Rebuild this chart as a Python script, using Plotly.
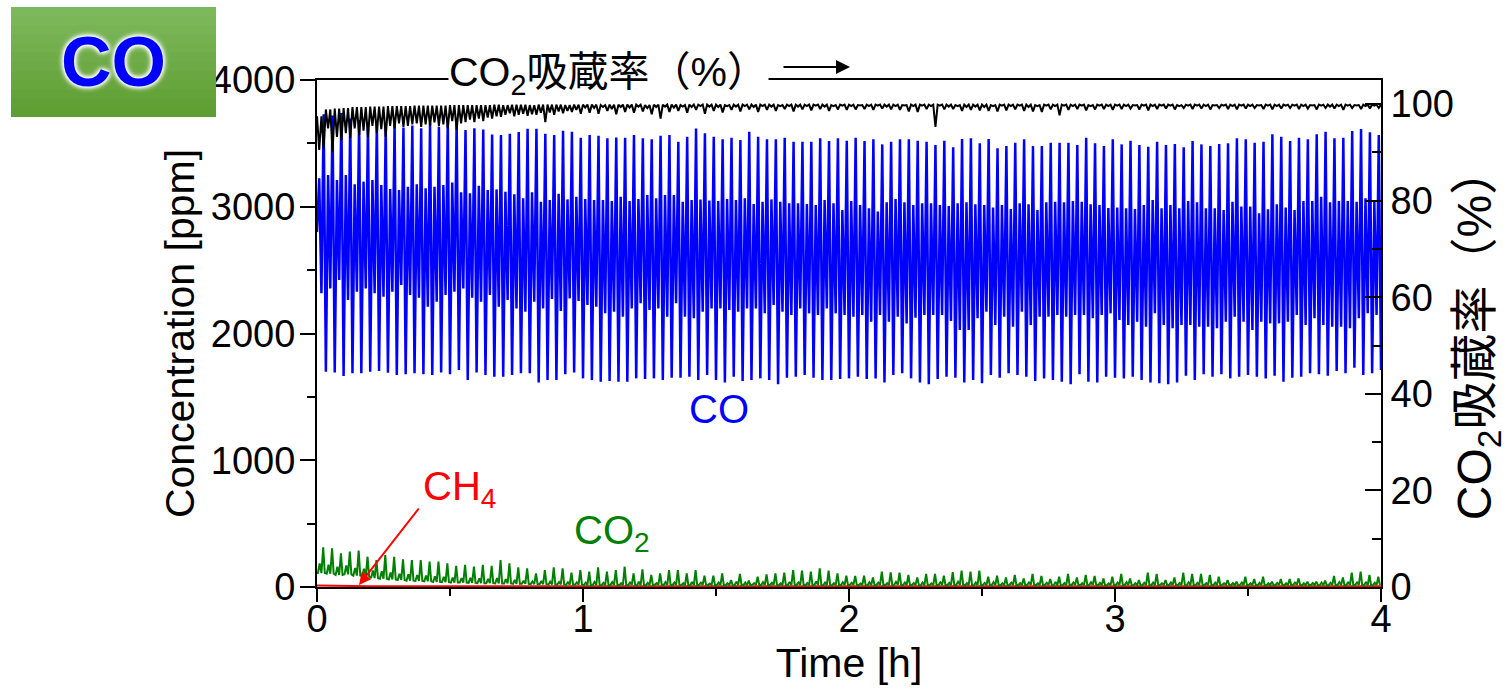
import plotly.graph_objects as go

# ---------------- data ----------------
CYCLE_H = 1 / 30  # one pressure-swing cycle = 2 min, 120 cycles in 4 h

# CO concentration [ppm] – four turning points per cycle
co_start = 2800
co_mid_peak = [
    3224, 3250, 3211, 3250, 3177, 3198, 3211, 3171, 3140, 3132,
    3158, 3177, 3145, 3158, 3171, 3192, 3114, 3106, 3166, 3132,
    3137, 3119, 3098, 3066, 3114, 3040, 3053, 3103, 3058, 3079,
    3061, 3053, 3053, 3045, 3079, 3045, 3061, 3092, 3066, 3092,
    3092, 3040, 3053, 3058, 3050, 3045, 3061, 3053, 3066, 3022,
    3040, 3058, 3040, 3027, 3027, 3022, 3014, 3053, 3027, 2975,
    3045, 3014, 2988, 2962, 3035, 3061, 3035, 3014, 3027, 3027,
    3014, 3006, 3027, 3035, 3019, 3014, 2993, 3014, 2983, 3027,
    3019, 2975, 3035, 3040, 3035, 3045, 3040, 3019, 3014, 2990,
    2993, 2988, 2983, 3014, 3053, 2988, 3014, 2988, 3045, 3035,
    2988, 2988, 2975, 3040, 3001, 3001, 2948, 2980, 3019, 2993,
    2975, 3045, 3045, 3079, 3035, 3045, 3045, 3040, 3066, 3040]
co_mid_trough = [
    2317, 2356, 2422, 2264, 2330, 2356, 2317, 2290, 2330, 2382,
    2304, 2282, 2211, 2251, 2304, 2330, 2356, 2282, 2251, 2304,
    2211, 2264, 2198, 2172, 2251, 2198, 2272, 2177, 2277, 2256,
    2225, 2211, 2159, 2172, 2133, 2198, 2238, 2185, 2198, 2133,
    2238, 2133, 2120, 2172, 2198, 2198, 2185, 2172, 2198, 2198,
    2159, 2225, 2172, 2146, 2198, 2159, 2146, 2198, 2159, 2146,
    2133, 2146, 2093, 2146, 2093, 2133, 2080, 2125, 2146, 2146,
    2146, 2098, 2028, 2028, 2120, 2172, 2067, 2133, 2054, 2172,
    2067, 2133, 2133, 2146, 2133, 2146, 2146, 2120, 2146, 2159,
    2107, 2067, 2093, 2054, 2159, 2067, 2041, 2067, 2067, 2054,
    2054, 2041, 2093, 2133, 2093, 2028, 2093, 2080, 2080, 2093,
    2146, 2067, 2120, 2067, 2054, 2054, 2041, 2120, 2159, 2146]
co_high_peak = [
    3730, 3720, 3740, 3697, 3684, 3660, 3671, 3645, 3650, 3625,
    3640, 3619, 3658, 3632, 3684, 3684, 3606, 3619, 3610, 3570,
    3566, 3575, 3590, 3615, 3615, 3575, 3566, 3600, 3592, 3545,
    3566, 3560, 3540, 3547, 3544, 3566, 3540, 3532, 3560, 3566,
    3513, 3553, 3618, 3579, 3553, 3532, 3544, 3526, 3592, 3553,
    3532, 3532, 3544, 3513, 3513, 3513, 3540, 3518, 3540, 3520,
    3544, 3518, 3532, 3492, 3513, 3532, 3532, 3521, 3513, 3487,
    3521, 3469, 3534, 3540, 3500, 3534, 3461, 3479, 3505, 3532,
    3479, 3479, 3505, 3505, 3505, 3487, 3544, 3500, 3479, 3532,
    3492, 3521, 3487, 3474, 3513, 3487, 3495, 3469, 3518, 3492,
    3479, 3495, 3500, 3540, 3532, 3505, 3513, 3571, 3553, 3518,
    3544, 3532, 3571, 3592, 3540, 3544, 3597, 3613, 3587, 3566]
co_low_trough = [
    1699, 1693, 1665, 1686, 1686, 1699, 1704, 1691, 1672, 1678,
    1686, 1678, 1672, 1693, 1678, 1712, 1633, 1693, 1672, 1659,
    1659, 1672, 1686, 1686, 1614, 1633, 1633, 1678, 1693, 1646,
    1633, 1620, 1625, 1620, 1620, 1646, 1641, 1646, 1633, 1651,
    1651, 1659, 1633, 1672, 1633, 1614, 1659, 1625, 1633, 1646,
    1633, 1599, 1651, 1659, 1672, 1651, 1633, 1633, 1641, 1646,
    1659, 1641, 1646, 1614, 1672, 1686, 1646, 1614, 1599, 1641,
    1659, 1651, 1614, 1633, 1607, 1672, 1651, 1686, 1672, 1659,
    1625, 1646, 1633, 1620, 1599, 1678, 1620, 1614, 1659, 1651,
    1646, 1659, 1633, 1614, 1607, 1599, 1614, 1667, 1633, 1678,
    1659, 1678, 1646, 1659, 1672, 1659, 1646, 1667, 1620, 1651,
    1659, 1686, 1678, 1667, 1704, 1686, 1730, 1672, 1686, 1712]

# CO2 absorption rate [%] (right axis)
abs_top = [
    97.5, 98.9, 99.1, 99.2, 99.4, 99.4, 99.5, 99.5, 99.6, 99.6,
    99.6, 99.7, 99.7, 99.7, 99.7, 99.8, 99.8, 99.8, 99.8, 99.8,
    99.9, 99.8, 99.9, 99.9, 99.8, 99.9, 99.9, 99.9, 99.8, 99.9,
    99.9, 99.9, 99.8, 99.9, 99.9, 99.9, 99.9, 99.8, 99.9, 99.9,
    99.9, 99.8, 99.9, 99.9, 99.9, 99.9, 99.8, 99.9, 99.9, 99.9,
    99.9, 99.9, 99.8, 99.9, 99.9, 99.9, 99.9, 99.9, 99.8, 99.9,
    99.9, 99.8, 99.9, 99.9, 99.9, 99.9, 99.8, 99.9, 99.9, 99.9,
    99.9, 99.9, 99.8, 99.9, 99.9, 99.9, 99.8, 99.9, 99.9, 99.9,
    99.9, 99.8, 99.9, 99.9, 99.9, 99.9, 99.9, 99.8, 99.9, 99.9,
    99.9, 99.9, 99.8, 99.9, 99.9, 99.9, 99.9, 99.8, 99.9, 99.9,
    99.9, 99.8, 99.9, 99.9, 99.9, 99.9, 99.8, 99.9, 99.9, 99.9,
    99.9, 99.9, 99.8, 99.9, 99.9, 99.9, 99.9, 99.8, 99.9, 99.9]
abs_dip1 = [
    90.5, 95.0, 93.2, 94.0, 95.0, 94.5, 95.5, 94.8, 95.5, 96.0,
    95.5, 96.0, 95.8, 96.2, 95.8, 96.5, 96.0, 96.8, 97.0, 97.2,
    97.5, 97.8, 97.5, 98.0, 97.9, 98.2, 98.3, 98.5, 98.6, 98.8,
    99.3, 99.2, 99.4, 99.0, 99.4, 99.3, 99.5, 99.2, 99.4, 99.5,
    99.3, 99.5, 99.4, 99.6, 99.5, 99.4, 99.6, 99.5, 99.6, 99.4,
    99.6, 99.5, 99.6, 99.6, 99.5, 99.6, 99.7, 99.5, 99.6, 99.7,
    99.6, 99.7, 99.6, 99.7, 99.5, 99.6, 99.7, 99.6, 99.7, 99.6,
    99.7, 99.5, 99.6, 99.4, 99.5, 99.4, 99.6, 99.7, 99.6, 99.7,
    99.4, 99.6, 99.7, 99.6, 99.7, 99.6, 99.7, 99.6, 99.7, 99.6,
    99.7, 99.6, 99.7, 99.7, 99.6, 99.7, 99.7, 99.6, 99.7, 99.7,
    99.6, 99.7, 99.7, 99.6, 99.7, 99.6, 99.7, 99.7, 99.6, 99.7,
    99.7, 99.6, 99.7, 99.7, 99.5, 99.6, 99.7, 99.7, 99.6, 99.7]
abs_dip2 = [
    90.8, 90.1, 92.5, 93.0, 93.6, 93.2, 94.0, 93.2, 95.0, 95.3,
    95.8, 95.3, 95.5, 95.5, 95.0, 94.6, 96.3, 96.3, 96.5, 97.0,
    97.4, 98.1, 97.8, 97.6, 97.8, 96.3, 97.8, 98.1, 98.4, 98.0,
    98.2, 98.0, 98.6, 97.9, 98.4, 98.2, 98.5, 97.9, 97.0, 98.4,
    98.6, 98.2, 98.8, 98.0, 98.6, 98.3, 98.8, 98.5, 98.9, 98.4,
    98.8, 98.6, 99.0, 98.5, 98.9, 98.7, 99.0, 98.6, 98.9, 98.8,
    98.9, 99.0, 98.8, 99.1, 98.9, 98.8, 98.5, 98.4, 99.0, 95.3,
    98.9, 99.0, 98.6, 98.8, 98.7, 98.6, 98.5, 98.7, 98.9, 98.6,
    98.5, 98.4, 98.9, 97.7, 98.8, 99.0, 98.7, 98.9, 99.0, 98.8,
    99.0, 99.1, 98.9, 98.7, 99.0, 99.1, 98.9, 99.2, 99.0, 99.1,
    98.9, 99.2, 99.0, 98.9, 99.1, 99.2, 99.0, 98.9, 99.1, 99.2,
    99.0, 99.1, 98.9, 99.2, 99.1, 98.8, 99.2, 99.0, 99.1, 99.2]

# CO2 concentration [ppm]
co2_base = [
    110, 105, 95, 100, 90, 85, 70, 65, 60, 55,
    50, 48, 45, 40, 38, 35, 35, 32, 30, 30,
    28, 28, 25, 25, 22, 22, 20, 20, 18, 18,
    15, 16, 14, 17, 15, 16, 14, 15, 17, 15,
    16, 14, 15, 17, 16, 15, 14, 16, 15, 17,
    15, 16, 14, 15, 17, 15, 16, 14, 15, 16,
    17, 15, 14, 16, 15, 17, 15, 16, 14, 15,
    16, 15, 17, 14, 15, 16, 15, 14, 16, 15,
    17, 15, 16, 14, 15, 16, 15, 17, 14, 15,
    16, 15, 14, 16, 15, 17, 15, 16, 14, 15,
    16, 15, 17, 14, 15, 16, 15, 14, 16, 15,
    17, 15, 16, 14, 15, 16, 15, 17, 14, 15]
co2_bump = [
    185, 175, 160, 170, 150, 145, 130, 125, 115, 105,
    100, 95, 90, 85, 80, 75, 70, 72, 68, 65,
    70, 62, 55, 50, 45, 48, 42, 40, 38, 36,
    34, 40, 32, 38, 30, 36, 42, 33, 30, 38,
    35, 30, 40, 34, 28, 36, 30, 42, 35, 31,
    38, 33, 29, 40, 36, 31, 44, 35, 30, 37,
    33, 29, 38, 34, 30, 40, 36, 31, 35, 29,
    37, 33, 41, 30, 35, 32, 38, 30, 34, 31,
    36, 30, 33, 39, 31, 35, 30, 37, 32, 29,
    34, 38, 30, 33, 36, 29, 35, 31, 37, 33,
    30, 34, 29, 31, 36, 30, 33, 29, 32, 30,
    34, 30, 31, 35, 33, 38, 40, 36, 39, 34]
co2_peak = [
    313, 305, 266, 279, 287, 239, 213, 252, 239, 218,
    213, 213, 200, 200, 187, 166, 174, 160, 174, 166,
    213, 187, 155, 147, 108, 134, 155, 147, 113, 134,
    121, 155, 121, 134, 160, 108, 139, 95, 108, 134,
    134, 108, 134, 89, 89, 108, 55, 103, 50, 81,
    100, 108, 113, 134, 129, 121, 147, 129, 108, 89,
    87, 89, 76, 121, 116, 113, 95, 76, 103, 103,
    89, 118, 129, 121, 129, 81, 89, 76, 95, 68,
    103, 87, 63, 81, 103, 76, 95, 87, 68, 81,
    103, 68, 55, 113, 103, 55, 76, 113, 103, 103,
    95, 81, 55, 42, 81, 63, 81, 42, 63, 63,
    68, 42, 42, 50, 87, 76, 113, 121, 95, 81]

# CH4 concentration [ppm]
ch4 = [
    12, 10, 9, 8, 7, 6, 6, 5, 5, 5,
    6, 5, 6, 5, 6, 5, 6, 5, 6, 5,
    6, 5, 6, 5, 6, 5, 6, 5, 6, 5,
    6, 5, 6, 5, 6, 5, 6, 5, 6, 5,
    6, 5, 6, 5, 6, 5, 6, 5, 6, 5,
    6, 5, 6, 5, 6, 5, 6, 5, 6, 5,
    6, 5, 6, 5, 6, 5, 6, 5, 6, 5,
    6, 5, 6, 5, 6, 5, 6, 5, 6, 5,
    6, 5, 6, 5, 6, 5, 6, 5, 6, 5,
    6, 5, 6, 5, 6, 5, 6, 5, 6, 5,
    6, 5, 6, 5, 6, 5, 6, 5, 6, 5,
    6, 5, 6, 5, 6, 5, 6, 5, 6, 5]

x_ticks = [0, 1, 2, 3, 4]
x_minor = [0.5, 1.5, 2.5, 3.5]
y_ticks = [0, 1000, 2000, 3000, 4000]
y_minor = [500, 1500, 2500, 3500]
y2_ticks = [0, 20, 40, 60, 80, 100]
y2_minor = [10, 30, 50, 70, 90]

# ---------------- build polylines ----------------
N = len(co_high_peak)
co_t, co_v = [0.0], [co_start]
ab_t, ab_v = [], []
g_t, g_v = [0.0], [co2_base[0]]
for k in range(N):
    co_t += [(k + 0.25) * CYCLE_H, (k + 0.5) * CYCLE_H, (k + 0.75) * CYCLE_H, (k + 1.0) * CYCLE_H]
    co_v += [co_mid_peak[k], co_mid_trough[k], co_high_peak[k], co_low_trough[k]]
    ab_t += [k * CYCLE_H, (k + 0.25) * CYCLE_H, (k + 0.5) * CYCLE_H, (k + 0.75) * CYCLE_H]
    ab_v += [abs_top[k], abs_dip1[k], abs_top[k], abs_dip2[k]]
    g_t += [(k + 0.1) * CYCLE_H, (k + 0.3) * CYCLE_H, (k + 0.5) * CYCLE_H,
            (k + 0.7) * CYCLE_H, (k + 0.88) * CYCLE_H]
    g_v += [co2_base[k], co2_bump[k], co2_base[k], co2_peak[k], co2_base[k]]
ab_t.append(N * CYCLE_H)
ab_v.append(abs_top[-1])
ch4_t = [k * CYCLE_H for k in range(N)] + [N * CYCLE_H]
ch4_v = ch4 + [ch4[-1]]

# ---------------- figure ----------------
FONT = "Arial, 'Liberation Sans', 'Noto Sans CJK JP', sans-serif"
L, R, T, B = 317, 131, 80, 108
W, H = 1512, 695
PW, PH = W - L - R, H - T - B


def px(xp):
    return (xp - L) / PW


def py(yp):
    return (H - B - yp) / PH


fig = go.Figure()
fig.add_trace(go.Scatter(x=ch4_t, y=ch4_v, mode="lines",
                         line=dict(color="#ff0000", width=2), showlegend=False))
fig.add_trace(go.Scatter(x=g_t, y=g_v, mode="lines",
                         line=dict(color="#008000", width=2), showlegend=False))
fig.add_trace(go.Scatter(x=co_t, y=co_v, mode="lines",
                         line=dict(color="#0000ff", width=2.5), showlegend=False))
fig.add_trace(go.Scatter(x=ab_t, y=ab_v, mode="lines", yaxis="y2",
                         line=dict(color="#000000", width=2), showlegend=False))

axis_common = dict(showgrid=False, zeroline=False, showline=True, linecolor="black",
                   linewidth=2, tickcolor="black", tickwidth=2,
                   tickfont=dict(family=FONT, size=38, color="black"))

fig.update_layout(
    width=W, height=H,
    margin=dict(l=L, r=R, t=T, b=B, pad=0),
    paper_bgcolor="white", plot_bgcolor="white",
    font=dict(family=FONT, color="black"),
    showlegend=False,
    xaxis=dict(range=[0, 4], tickvals=x_ticks, ticks="outside", ticklen=13, mirror=True,
               ticklabelstandoff=-16,
               minor=dict(tickvals=x_minor, ticks="outside", ticklen=7, tickwidth=2,
                          tickcolor="black"),
               title=dict(text="Time [h]", font=dict(family=FONT, size=41), standoff=0),
               **axis_common),
    yaxis=dict(range=[0, 4000], tickvals=y_ticks, ticks="outside", ticklen=15,
               ticklabelstandoff=-3,
               minor=dict(tickvals=y_minor, ticks="outside", ticklen=8, tickwidth=2,
                          tickcolor="black"),
               title=dict(text="Concentration [ppm]", font=dict(family=FONT, size=41),
                          standoff=4),
               **axis_common),
    yaxis2=dict(range=[0, 105], tickvals=y2_ticks, ticks="inside", ticklen=16,
                overlaying="y", side="right",
                minor=dict(tickvals=y2_minor, ticks="inside", ticklen=9, tickwidth=2,
                           tickcolor="black"),
                title=dict(text="CO<sub>2</sub>吸蔵率（%）", font=dict(family=FONT, size=48),
                           standoff=4),
                **axis_common),
)

# green badge with vertical gradient (stacked bands)
band_top, band_bot = 7, 117
n_bands = 12
c0, c1 = (126, 184, 92), (94, 158, 50)
for i in range(n_bands):
    f = i / (n_bands - 1)
    col = "rgb({},{},{})".format(*[round(a + (b - a) * f) for a, b in zip(c0, c1)])
    y0p = band_top + (band_bot - band_top) * i / n_bands
    y1p = min(band_bot, band_top + (band_bot - band_top) * (i + 1) / n_bands + 1)
    fig.add_shape(type="rect", xref="paper", yref="paper",
                  x0=px(11), x1=px(216), y0=py(y1p), y1=py(y0p),
                  fillcolor=col, line=dict(width=0), layer="above")

annotations = [
    dict(text="<b>CO</b>", x=px(113), y=py(62), xref="paper", yref="paper",
         showarrow=False, xanchor="center", yanchor="middle",
         font=dict(family=FONT, size=70, color="#0000ff",
                   shadow="0px 0px 5px white, 0px 0px 5px white, 0px 0px 7px white, 0px 0px 3px white")),
    dict(text="CO<sub>2</sub>吸蔵率（%）", x=px(608), y=py(75), xref="paper", yref="paper",
         showarrow=False, xanchor="center", yanchor="middle", bgcolor="white", borderpad=0,
         font=dict(family=FONT, size=41, color="black")),
    dict(text="", x=px(850), y=py(67), xref="paper", yref="paper", showarrow=True,
         ax=-68, ay=0, arrowhead=2, arrowsize=1.4, arrowwidth=2, arrowcolor="black"),
    dict(text="CO", x=px(719), y=py(409), xref="paper", yref="paper", showarrow=False,
         xanchor="center", yanchor="middle", font=dict(family=FONT, size=40, color="#0000ff")),
    dict(text="CO<sub>2</sub>", x=px(612), y=py(533), xref="paper", yref="paper",
         showarrow=False, xanchor="center", yanchor="middle",
         font=dict(family=FONT, size=40, color="#008000")),
    dict(text="CH<sub>4</sub>", x=px(459), y=py(489), xref="paper", yref="paper",
         showarrow=False, xanchor="center", yanchor="middle",
         font=dict(family=FONT, size=40, color="#ff0000")),
    dict(text="", x=px(359), y=py(585), xref="paper", yref="paper", showarrow=True,
         ax=61, ay=-78, arrowhead=2, arrowsize=1.2, arrowwidth=2, arrowcolor="#ff0000"),
]
fig.update_layout(annotations=annotations)

fig.write_html("out.html", config={"displayModeBar": False},
               post_script="document.body.style.margin='0';document.body.style.overflow='hidden';")
